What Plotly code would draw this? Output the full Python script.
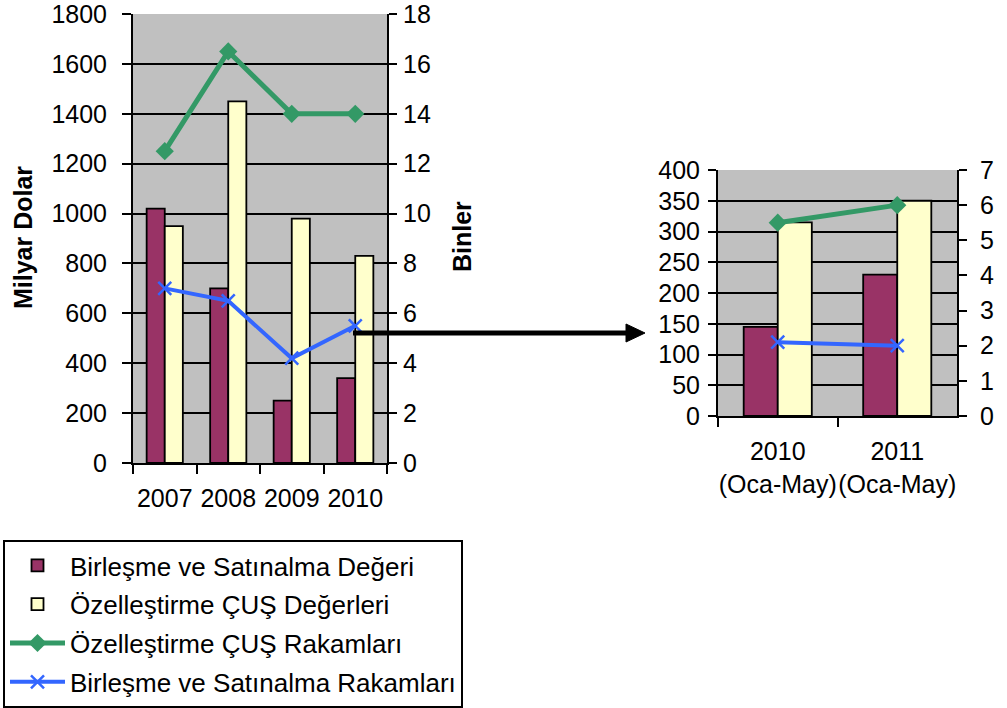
import plotly.graph_objects as go

# ---- data -------------------------------------------------------------
years = ["2007", "2008", "2009", "2010"]
ma_value = [1020, 700, 250, 340]        # Birleşme ve Satınalma Değeri (milyar $)
priv_value = [950, 1450, 980, 830]      # Özelleştirme ÇUŞ Değerleri (milyar $)
priv_count = [12.5, 16.5, 14.0, 14.0]   # Özelleştirme ÇUŞ Rakamları (bin)
ma_count = [7.0, 6.5, 4.2, 5.5]         # Birleşme ve Satınalma Rakamları (bin)

periods = ["2010<br>(Oca-May)", "2011<br>(Oca-May)"]
ma_value_p = [145, 230]
priv_value_p = [315, 350]
priv_count_p = [5.5, 6.0]
ma_count_p = [2.1, 2.0]

series_names = [
    "Birleşme ve Satınalma Değeri",
    "Özelleştirme ÇUŞ Değerleri",
    "Özelleştirme ÇUŞ Rakamları",
    "Birleşme ve Satınalma Rakamları",
]

# ---- styling ----------------------------------------------------------
W, H = 1007, 708
PURPLE = "#993366"
YELLOW = "#FFFFCC"
GREEN = "#339966"
BLUE = "#3366FF"
FONT = "Liberation Sans, Arial, sans-serif"
TICK_SIZE = 25


def px(x):
    return x / W


def py(y):
    return 1 - y / H


def bar_style(color):
    return dict(color=color, line=dict(color="black", width=1.8))


def add_panel(fig, cats, v1, v2, c1, c2, xa, ya, ya2, legend):
    fig.add_trace(go.Bar(x=cats, y=v1, name=series_names[0], marker=bar_style(PURPLE),
                         xaxis=xa, yaxis=ya, legendgroup="g1", showlegend=legend))
    fig.add_trace(go.Bar(x=cats, y=v2, name=series_names[1], marker=bar_style(YELLOW),
                         xaxis=xa, yaxis=ya, legendgroup="g2", showlegend=legend))
    fig.add_trace(go.Scatter(x=cats, y=c1, name=series_names[2], mode="lines+markers",
                             line=dict(color=GREEN, width=5),
                             marker=dict(symbol="diamond", size=14, color=GREEN),
                             xaxis=xa, yaxis=ya2, legendgroup="g3", showlegend=legend))
    fig.add_trace(go.Scatter(x=cats, y=c2, name=series_names[3], mode="lines+markers",
                             line=dict(color=BLUE, width=4),
                             marker=dict(symbol="x-thin", size=13, color=BLUE,
                                         line=dict(color=BLUE, width=2.5)),
                             xaxis=xa, yaxis=ya2, legendgroup="g4", showlegend=legend))


fig = go.Figure()
add_panel(fig, years, ma_value, priv_value, priv_count, ma_count, "x", "y", "y2", True)
add_panel(fig, periods, ma_value_p, priv_value_p, priv_count_p, ma_count_p, "x2", "y3", "y4", False)

axis_common = dict(showline=True, linecolor="black", linewidth=2,
                   ticks="outside", tickcolor="black", tickwidth=2,
                   zeroline=False, automargin=False, ticklabeloverflow="allow",
                   tickfont=dict(size=TICK_SIZE, color="black"))

x_common = dict(axis_common, type="category", tickson="boundaries", ticklen=9,
                showgrid=False, tickangle=0, ticklabelstandoff=12)

fig.update_layout(
    width=W, height=H,
    margin=dict(l=0, r=0, t=0, b=0, autoexpand=False),
    paper_bgcolor="white", plot_bgcolor="#C0C0C0",
    font=dict(family=FONT, size=TICK_SIZE, color="black"),
    barmode="group", bargap=0.43, bargroupgap=0,
    xaxis=dict(x_common, domain=[px(133), px(387)], anchor="y"),
    yaxis=dict(axis_common, domain=[py(463), py(14)], anchor="x", range=[0, 1800],
               tick0=0, dtick=200, ticklen=9, showgrid=True, gridcolor="black",
               gridwidth=2, ticklabelstandoff=10),
    yaxis2=dict(axis_common, overlaying="y", side="right", anchor="x", range=[0, 18],
                tick0=0, dtick=2, ticklen=8, showgrid=False, ticklabelstandoff=1),
    xaxis2=dict(x_common, domain=[px(718), px(957)], anchor="y3"),
    yaxis3=dict(axis_common, domain=[py(416), py(170)], anchor="x2", range=[0, 400],
                tick0=0, dtick=50, ticklen=8, showgrid=True, gridcolor="black",
                gridwidth=2, ticklabelstandoff=3),
    yaxis4=dict(axis_common, overlaying="y3", side="right", anchor="x2", range=[0, 7],
                tick0=0, dtick=1, ticklen=8, showgrid=False, ticklabelstandoff=8),
    legend=dict(x=px(3), y=py(540), xanchor="left", yanchor="top",
                bordercolor="black", borderwidth=2, bgcolor="white",
                font=dict(family=FONT, size=26, color="black"),
                traceorder="grouped", tracegroupgap=2, itemwidth=55),
    annotations=[
        dict(text="<b>Milyar Dolar</b>", x=px(23), y=py(238), xref="paper", yref="paper",
             textangle=-90, showarrow=False, xanchor="center", yanchor="middle",
             font=dict(size=25)),
        dict(text="<b>Binler</b>", x=px(462), y=py(237), xref="paper", yref="paper",
             textangle=-90, showarrow=False, xanchor="center", yanchor="middle",
             font=dict(size=25)),
    ],
    shapes=[
        # connector arrow from the 2010 column to the detail panel
        dict(type="line", xref="paper", yref="paper", x0=px(353), y0=py(333),
             x1=px(630), y1=py(333), line=dict(color="black", width=5), layer="above"),
        dict(type="path", xref="paper", yref="paper",
             path=f"M{px(645)},{py(333)} L{px(626)},{py(324)} L{px(626)},{py(342)} Z",
             fillcolor="black", line=dict(color="black", width=1), layer="above"),
    ],
)

fig.write_html("out.html")
